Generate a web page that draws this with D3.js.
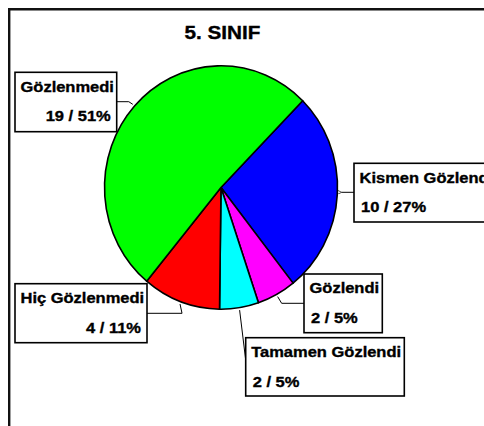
<!DOCTYPE html>
<html>
<head>
<meta charset="utf-8">
<script src="https://cdn.jsdelivr.net/npm/d3@7"></script>
<style>
  html, body { margin: 0; padding: 0; background: #fff; }
  svg { display: block; }
  text { font-family: "Liberation Sans", Arial, sans-serif; font-weight: bold; fill: #000; stroke: #000; stroke-width: 0.35px; }
</style>
</head>
<body>
<svg id="chart" width="484" height="426"></svg>
<script>
// ---- data ----
const title = "5. SINIF";
const categories = ["Kismen Gözlendi", "Gözlendi", "Tamamen Gözlendi", "Hiç Gözlenmedi", "Gözlenmedi"];
const values = [10, 2, 2, 4, 19];
const colors = ["#0000ff", "#ff00ff", "#00ffff", "#ff0000", "#00ff00"];

// ---- layout (styling) ----
const W = 484, H = 426;
const cx = 221, cy = 187.5, ry = 121.7, rx = 116.5;
const startDeg = 44.5;
const boxes = [
  {x: 354,   y: 163.3, w: 150,   h: 58.7, align: "start", side: "right", ly: 192.3, elbow: 0},
  {x: 304,   y: 274,   w: 78.3,  h: 58.7, align: "start", side: "right", ly: 303.3, elbow: 4},
  {x: 245.7, y: 337.7, w: 158.6, h: 58.3, align: "start", side: "direct", ly: 368.3, elbow: 0},
  {x: 15,    y: 283.7, w: 132,   h: 59,   align: "end",   side: "left",  ly: 313.3, elbow: -2},
  {x: 15,    y: 72.3,  w: 101.7, h: 59.4, align: "end",   side: "left",  ly: 101.7, elbow: 4}
];
const sx = 1.1;

const svg = d3.select("#chart");

svg.append("path")
  .attr("d", `M9.2,${H} V9.3 H${W}`)
  .attr("fill", "none").attr("stroke", "#111").attr("stroke-width", 2.4);

svg.append("g").attr("transform", `translate(222.5,39) scale(1.12,1)`)
  .append("text").attr("text-anchor", "middle").style("font-size", "18.5px").text(title);

const total = d3.sum(values);
const pie = d3.pie().sort(null).value(d => d)
  .startAngle(startDeg * Math.PI / 180)
  .endAngle(startDeg * Math.PI / 180 + 2 * Math.PI);
const arcs = pie(values);
const arc = d3.arc().innerRadius(0).outerRadius(ry);

const pg = svg.append("g").attr("transform", `translate(${cx},${cy}) scale(${rx / ry},1)`);
pg.selectAll("path.slice").data(arcs).enter().append("path")
  .attr("class", "slice")
  .attr("d", arc)
  .attr("fill", (d, i) => colors[i])
  .attr("stroke", "#000").attr("stroke-width", 1.6)
  .attr("stroke-linejoin", "round")
  .attr("vector-effect", "non-scaling-stroke");

const defs = svg.append("defs");
defs.append("marker").attr("id", "arr").attr("viewBox", "0 0 6 6")
  .attr("refX", 0).attr("refY", 3).attr("markerWidth", 5).attr("markerHeight", 4)
  .attr("orient", "auto-start-reverse")
  .append("path").attr("d", "M6,0 L0,3 L6,6").attr("fill", "none").attr("stroke", "#000").attr("stroke-width", 1);

arcs.forEach((d, i) => {
  const b = boxes[i];
  const a = (d.startAngle + d.endAngle) / 2;
  const px = cx + rx * 1.02 * Math.sin(a);
  const py = cy - ry * 1.02 * Math.cos(a);
  let pts;
  if (b.side === "right" && b.elbow === 0) {
    pts = [[px + 2, b.ly], [b.x, b.ly]];
  } else if (b.side === "right") {
    pts = [[px, py], [px + b.elbow, b.ly], [b.x, b.ly]];
  } else if (b.side === "left") {
    pts = [[px, py], [px - b.elbow, b.ly], [b.x + b.w, b.ly]];
  } else {
    pts = [[px, py], [b.x + 1, b.ly]];
  }
  const p = svg.append("path")
    .attr("d", d3.line()(pts))
    .attr("fill", "none").attr("stroke", "#000").attr("stroke-width", 1);
  if (i === 0) p.attr("marker-start", "url(#arr)");
});

arcs.forEach((d, i) => {
  const b = boxes[i];
  const g = svg.append("g");
  g.append("rect").attr("x", b.x).attr("y", b.y).attr("width", b.w).attr("height", b.h)
    .attr("fill", "#fff").attr("stroke", "#000").attr("stroke-width", 1.6);
  const pct = Math.round(values[i] / total * 100);
  g.append("g").attr("transform", `translate(${b.x + 5.5},${b.y + 19.2}) scale(${sx},1)`)
    .append("text").style("font-size", "15px").text(categories[i]);
  const vx = b.align === "end" ? b.x + b.w - 6 : b.x + 7;
  g.append("g").attr("transform", `translate(${vx},${b.y + 49}) scale(${sx},1)`)
    .append("text").attr("text-anchor", b.align).style("font-size", "15px")
    .text(`${values[i]} / ${pct}%`);
});
</script>
</body>
</html>
